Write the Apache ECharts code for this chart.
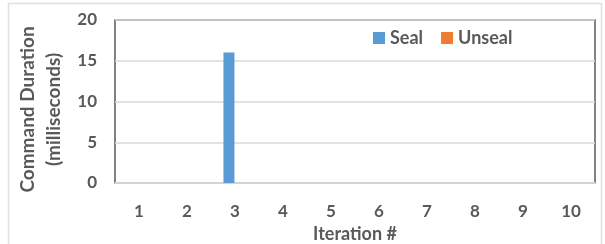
<!DOCTYPE html>
<html>
<head>
<meta charset="utf-8">
<style>
  html, body { margin: 0; padding: 0; background: #fff; }
  #chart { width: 605px; height: 244px; }
</style>
<script src="https://cdn.jsdelivr.net/npm/echarts@6/dist/echarts.min.js"></script>
</head>
<body>
<div id="chart"></div>
<script>
// data
const iterations = ['1', '2', '3', '4', '5', '6', '7', '8', '9', '10'];
const sealMs = [0, 0, 16, 0, 0, 0, 0, 0, 0, 0];
const unsealMs = [0, 0, 0, 0, 0, 0, 0, 0, 0, 0];
const yTicks = [0, 5, 10, 15, 20];

const textColor = '#595959';
const font = 'Lato, "Open Sans", sans-serif';

const chart = echarts.init(document.getElementById('chart'));

chart.setOption({
    animation: false,
    textStyle: { fontFamily: font },
    graphic: [{
        type: 'rect',
        shape: { x: 8.5, y: 3.5, width: 593, height: 250 },
        style: { fill: 'none', stroke: '#e0e0e0', lineWidth: 1.5 },
        silent: true
    }],
    grid: {
        left: 115, right: 10, top: 20, bottom: 61,
        outerBoundsMode: 'none',
        containLabel: false,
        show: true, borderColor: textColor, borderWidth: 1.5
    },
    legend: {
        left: 368, top: 24,
        itemWidth: 12, itemHeight: 12, itemGap: 18,
        icon: 'rect',
        textStyle: { color: textColor, fontSize: 18, fontWeight: 'bold', fontFamily: font },
        data: ['Seal', 'Unseal']
    },
    xAxis: {
        type: 'category',
        data: iterations,
        name: 'Iteration #',
        nameLocation: 'middle',
        nameGap: 42,
        nameTextStyle: { color: textColor, fontSize: 18, fontWeight: 'bold' },
        axisLine: { lineStyle: { color: '#d9d9d9', width: 1.5 } },
        axisTick: { show: false },
        axisLabel: { color: textColor, fontSize: 17, fontWeight: 'bold', margin: 20 }
    },
    yAxis: {
        type: 'value',
        min: yTicks[0], max: yTicks[yTicks.length - 1], interval: 5,
        name: 'Command Duration\n(milliseconds)',
        nameLocation: 'middle',
        nameGap: 33,
        nameTextStyle: { color: textColor, fontSize: 19, fontWeight: 'bold', lineHeight: 26, padding: [0, 16, 0, 0] },
        axisLine: { show: false },
        axisTick: { show: false },
        axisLabel: { color: textColor, fontSize: 17, fontWeight: 'bold', margin: 18 },
        splitLine: { lineStyle: { color: '#d9d9d9', width: 1.5 } }
    },
    series: [
        {
            name: 'Seal', type: 'bar', data: sealMs,
            barWidth: 11, barGap: '10%',
            itemStyle: { color: '#5B9BD5' }
        },
        {
            name: 'Unseal', type: 'bar', data: unsealMs,
            barWidth: 11,
            itemStyle: { color: '#ED7D31' }
        }
    ]
});
</script>
</body>
</html>
